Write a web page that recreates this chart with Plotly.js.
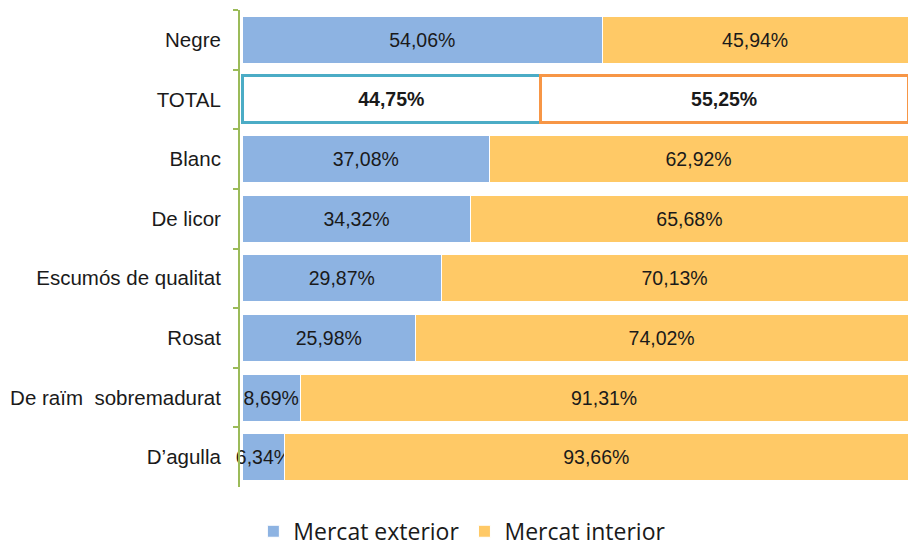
<!DOCTYPE html>
<html><head><meta charset="utf-8">
<script src="https://cdn.plot.ly/plotly-3.0.1.min.js"></script>
<style>body{margin:0;background:#fff}#c{width:909px;height:550px}</style>
</head><body><div id="c"></div>
<script>
var categories = ["Negre","TOTAL","Blanc","De licor","Escumós de qualitat","Rosat","De raïm&nbsp;&nbsp;sobremadurat","D’agulla"];
var exterior = [54.06,44.75,37.08,34.32,29.87,25.98,8.69,6.34];
var interior = [45.94,55.25,62.92,65.68,70.13,74.02,91.31,93.66];
var seriesNames = ["Mercat exterior","Mercat interior"];

function fmt(v,i){var s=v.toFixed(2).replace('.',',')+'%';return categories[i]==='TOTAL'?'<b>'+s+'</b>':s;}
function colors(base){return categories.map(function(c){return c==='TOTAL'?'#ffffff':base;});}
function lines(tot){return categories.map(function(c){return c==='TOTAL'?tot:'#ffffff';});}
function lw(){return categories.map(function(c){return c==='TOTAL'?3:1;});}

var common = {type:'bar',orientation:'h',y:categories,textposition:'inside',insidetextanchor:'middle',textangle:0,
  cliponaxis:false,constraintext:'none',textfont:{family:'Liberation Sans, Arial, sans-serif',size:19.5,color:'#1a1a1a'},hoverinfo:'none'};
var t1 = Object.assign({},common,{name:seriesNames[0],x:exterior,text:exterior.map(fmt),
  marker:{color:colors('#8DB3E2'),line:{color:lines('#4BACC6'),width:lw()}}});
var t2 = Object.assign({},common,{name:seriesNames[1],x:interior,text:interior.map(fmt),
  marker:{color:colors('#FFC966'),line:{color:lines('#F79646'),width:lw()}}});

var layout = {
  width:909,height:550,barmode:'stack',bargap:0.21,
  margin:{l:240,r:1,t:10,b:63,autoexpand:false},
  paper_bgcolor:'#fff',plot_bgcolor:'#fff',
  xaxis:{range:[-0.35,100],showline:false,showgrid:false,zeroline:false,showticklabels:false,ticks:''},
  yaxis:{autorange:'reversed',showline:true,linecolor:'#9BBB59',linewidth:2,ticks:'outside',tickson:'boundaries',
    ticklen:5,tickcolor:'#9BBB59',tickwidth:2,ticklabelstandoff:13,showgrid:false,
    tickfont:{family:'Liberation Sans, Arial, sans-serif',size:20.5,color:'#1a1a1a'}},
  showlegend:true,
  legend:{orientation:'h',traceorder:'normal',x:0.02,xanchor:'left',yref:'container',y:0.034,yanchor:'middle',
    font:{family:'Open Sans, Liberation Sans, sans-serif',size:23,color:'#1a1a1a'}}
};
Plotly.newPlot('c',[t1,t2],layout,{staticPlot:true});
</script></body></html>
